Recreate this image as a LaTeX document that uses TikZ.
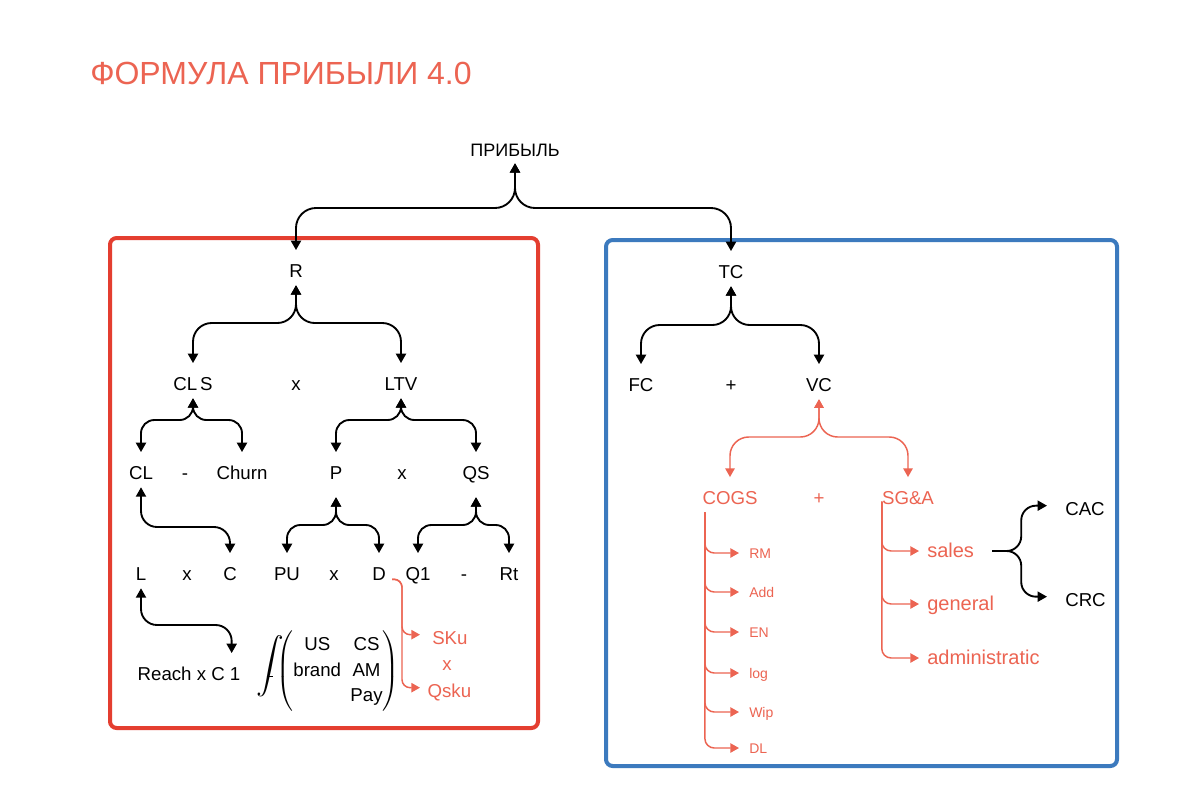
\documentclass[tikz,border=0pt]{standalone}
\usepackage{exscale}
\usepackage{fontspec}
\setmainfont{Liberation Sans}
\usetikzlibrary{arrows.meta}
\definecolor{salmon}{RGB}{236,100,82}
\definecolor{boxred}{RGB}{228,62,48}
\definecolor{boxblue}{RGB}{60,122,190}
\begin{document}
\begin{tikzpicture}[x=0.75pt,y=-0.75pt,
  lbl/.style={font=\fontsize{14}{17}\selectfont, text height=20pt, text depth=6pt, inner sep=0pt, anchor=base},
  rlbl/.style={lbl, text=salmon},
  itm/.style={font=\fontsize{10.5}{12}\selectfont, text=salmon, text height=7.5pt, text depth=0pt, inner xsep=7.5pt, inner ysep=0pt, anchor=base west},
  sitm/.style={font=\fontsize{15}{18}\selectfont, text=salmon, text height=9pt, text depth=0pt, inner xsep=6pt, inner ysep=0pt, anchor=base west},
  conn/.style={draw=black, line width=1.4pt, arrows={Triangle[length=7pt,width=7.5pt]-Triangle[length=7pt,width=7.5pt]}, rounded corners=#1},
  conn/.default=10pt,
  oneway/.style={draw=black, line width=1.4pt, arrows={-Triangle[length=7pt,width=7.5pt]}, rounded corners=#1},
  oneway/.default=11pt,
  rconn/.style={draw=salmon, line width=1.1pt, arrows={Triangle[length=6.5pt,width=7pt]-Triangle[length=6.5pt,width=7pt]}, rounded corners=#1},
  rconn/.default=14pt,
  rarr/.style={draw=salmon, line width=1.1pt, arrows={-Triangle[length=6.5pt,width=7pt]}, rounded corners=#1},
  rarr/.default=7pt,
  boxline/.style={line width=3pt, rounded corners=5pt}
]
\useasboundingbox (0,0) rectangle (1200,808);
\fill[white] (0,0) rectangle (1200,808);

% frames
\draw[boxline, draw=boxred] (110,238) rectangle (538,728);
\draw[boxline, draw=boxblue] (606,240) rectangle (1117,766);

% title
\node[font=\fontsize{24}{28}\selectfont, text=salmon, anchor=base west, inner sep=0pt] (title) at (90,84) {ФОРМУЛА ПРИБЫЛИ 4.0};

% top
\node[lbl, font=\fontsize{13.5}{16}\selectfont, text depth=5.25pt] (prib) at (515,156) {ПРИБЫЛЬ};
\node[lbl] (R) at (296,277) {R};
\node[lbl] (TC) at (731,278) {TC};

% left tree
\node[lbl] (CLS) at (193,390) {CL\,S};
\node[lbl] (x1) at (296,390) {x};
\node[lbl] (LTV) at (401,390) {LTV};

\node[lbl] (CL) at (141,479) {CL};
\node[lbl] (m1) at (185,479) {-};
\node[lbl] (Churn) at (242,479) {Churn};
\node[lbl] (P) at (336,479) {P};
\node[lbl] (x2) at (402,479) {x};
\node[lbl] (QS) at (476,479) {QS};

\node[lbl] (L) at (141,580) {L};
\node[lbl] (x3) at (187,580) {x};
\node[lbl] (C) at (230,580) {C};
\node[lbl] (PU) at (287,580) {PU};
\node[lbl] (x4) at (334,580) {x};
\node[lbl] (D) at (379,580) {D};
\node[lbl] (Q1) at (418,580) {Q1};
\node[lbl] (m2) at (464,580) {-};
\node[lbl] (Rt) at (509,580) {Rt};

\node[lbl] (Reach) at (189,680) {Reach x C 1};

\node[font=\fontsize{21}{21}\selectfont, inner sep=0pt] (intg) at (270,666) {$\displaystyle\int$};
\draw[line width=0.9pt] ([xshift=-2.5pt,yshift=-8pt]intg.center) -- ([xshift=2.5pt,yshift=-8pt]intg.center);
\node[font=\fontsize{14}{19}\selectfont, inner sep=0pt] (fx) at (338,671)
  {$\left(\begin{tabular}{@{}c@{\hspace{7pt}}c@{}}US&CS\\brand&AM\\&Pay\end{tabular}\right)$};

\node[rlbl, anchor=base west, inner xsep=9pt] (SKu) at (420,644) {SKu};
\node[rlbl] (x5) at (447,670) {x};
\node[rlbl, anchor=base west, inner xsep=5.5pt] (Qsku) at (420,697) {Qsku};

% right tree
\node[lbl] (FC) at (641,391) {FC};
\node[lbl] (p1) at (731,391) {+};
\node[lbl] (VC) at (819,391) {VC};

\node[rlbl] (COGS) at (730,504) {COGS};
\node[rlbl] (p2) at (819,504) {+};
\node[rlbl] (SGA) at (908,504) {SG\&A};

\node[itm] (RM) at (739,558) {RM};
\node[itm] (Add) at (739,597) {Add};
\node[itm] (EN) at (739,637) {EN};
\node[itm] (log) at (739,678) {log};
\node[itm] (Wip) at (739,717) {Wip};
\node[itm] (DL) at (739,753) {DL};

\node[sitm] (sales) at (919,557) {sales};
\node[sitm] (general) at (919,610) {general};
\node[sitm] (admin) at (919,664) {administratic};

\node[lbl, anchor=base west, inner xsep=13.5pt] (CAC) at (1047,515) {CAC};
\node[lbl, anchor=base west, inner xsep=13.5pt] (CRC) at (1047,606) {CRC};

% levels
\coordinate (h1) at (0,208);
\coordinate (h2) at (0,323);
\coordinate (h3) at (0,420);
\coordinate (h5) at (0,527);
\coordinate (h6) at (0,525);
\coordinate (h8) at (0,625);
\coordinate (h9) at (0,325);
\coordinate (h10) at (0,437);
\coordinate (Pb) at ([yshift=-7.5pt]P.south);
\coordinate (QSb) at ([yshift=-7.5pt]QS.south);
\coordinate (reachin) at ([xshift=32pt]Reach.north);
\coordinate (Dout) at ([xshift=4.5pt,yshift=6.75pt]D.south east);
\coordinate (cg) at ([xshift=2pt]COGS.south west);
\coordinate (sg) at ([yshift=8pt]SGA.south west);
\coordinate (so) at ([xshift=7.5pt]sales.east);

% forks
\draw[conn=15pt] (prib.south) -- (prib.south |- h1) -| (R.north);
\draw[conn=15pt] (prib.south) -- (prib.south |- h1) -| (TC.north);

\draw[conn=14pt] (R.south) -- (R.south |- h2) -| (CLS.north);
\draw[conn=14pt] (R.south) -- (R.south |- h2) -| (LTV.north);

\draw[conn=10pt] (CLS.south) -- (CLS.south |- h3) -| (CL.north);
\draw[conn=10pt] (CLS.south) -- (CLS.south |- h3) -| (Churn.north);
\draw[conn=10pt] (LTV.south) -- (LTV.south |- h3) -| (P.north);
\draw[conn=10pt] (LTV.south) -- (LTV.south |- h3) -| (QS.north);

\draw[conn=12pt] (CL.south) -- (CL.south |- h5) -| (C.north);

\draw[conn=10pt] (Pb) -- (Pb |- h6) -| (PU.north);
\draw[conn=10pt] (Pb) -- (Pb |- h6) -| (D.north);
\draw[conn=10pt] (QSb) -- (QSb |- h6) -| (Q1.north);
\draw[conn=10pt] (QSb) -- (QSb |- h6) -| (Rt.north);

\draw[conn=12pt] (L.south) -- (L.south |- h8) -| (reachin);

\draw[conn=14pt] (TC.south) -- (TC.south |- h9) -| (FC.north);
\draw[conn=14pt] (TC.south) -- (TC.south |- h9) -| (VC.north);

\draw[rconn=14pt] (VC.south) -- (VC.south |- h10) -| (COGS.north);
\draw[rconn=14pt] (VC.south) -- (VC.south |- h10) -| (SGA.north);

% D -> SKu, Qsku
\draw[rarr=6pt] (Dout) -- ++(10,0) |- (SKu.west);
\draw[rarr=6pt] (Dout) -- ++(10,0) |- (Qsku.west);

% COGS list
\foreach \n in {RM,Add,EN,log,Wip,DL}{
  \draw[rarr=7pt] (cg) |- (\n.west);
}
% SG&A list
\foreach \n in {sales,general,admin}{
  \draw[rarr=7pt] (sg) |- (\n.west);
}

% sales -> CAC, CRC
\draw[oneway=11pt] (so) -- ++(29,0) |- (CAC.west);
\draw[oneway=11pt] (so) -- ++(29,0) |- (CRC.west);
\end{tikzpicture}
\end{document}
